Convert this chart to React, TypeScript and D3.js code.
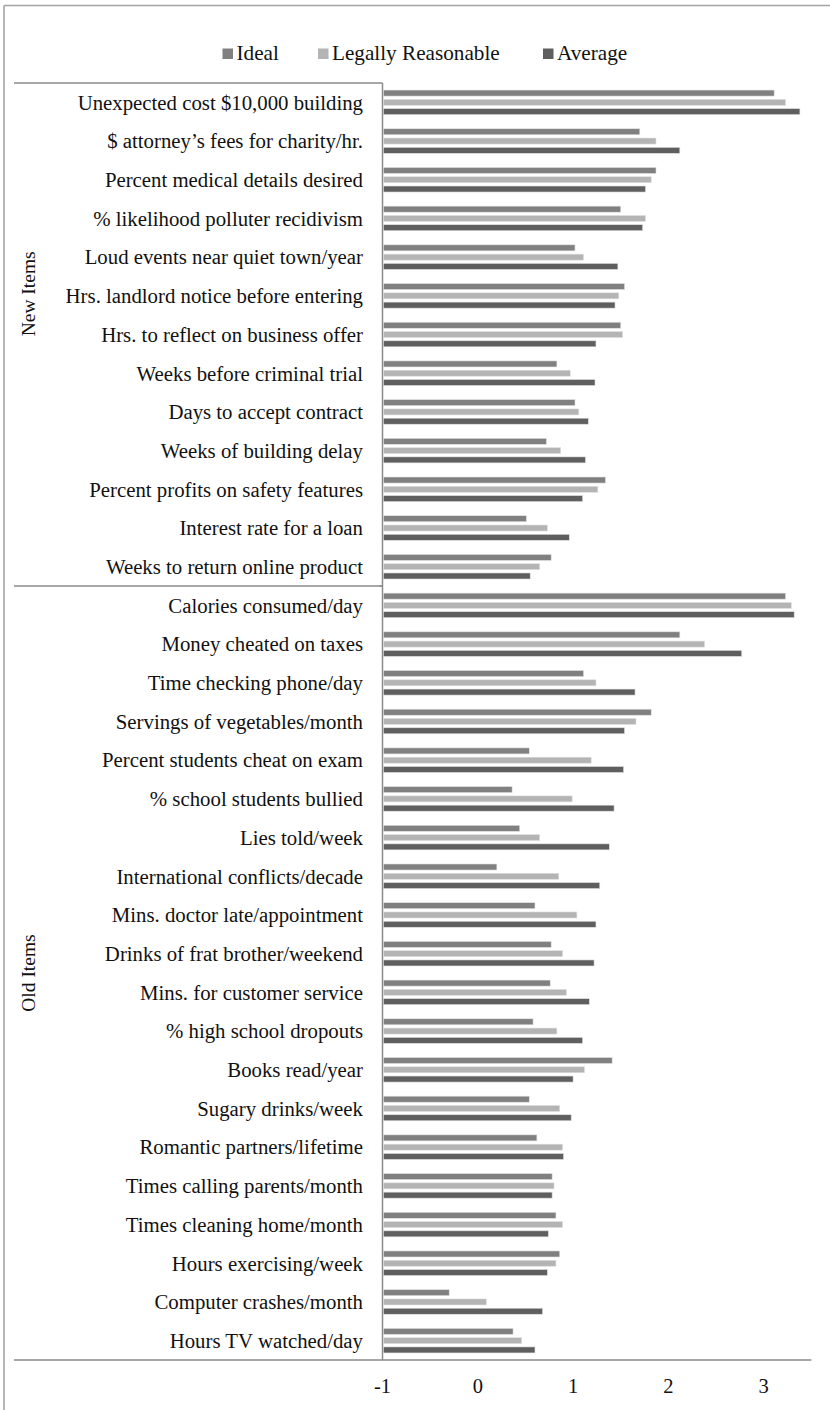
import React from "react";
import * as d3 from "d3";

const newItems = [
  "Unexpected cost $10,000 building",
  "$ attorney\u2019s fees for charity/hr.",
  "Percent medical details desired",
  "% likelihood polluter recidivism",
  "Loud events near quiet town/year",
  "Hrs. landlord notice before entering",
  "Hrs. to reflect on business offer",
  "Weeks before criminal trial",
  "Days to accept contract",
  "Weeks of building delay",
  "Percent profits on safety features",
  "Interest rate for a loan",
  "Weeks to return online product",
];
const oldItems = [
  "Calories consumed/day",
  "Money cheated on taxes",
  "Time checking phone/day",
  "Servings of vegetables/month",
  "Percent students cheat on exam",
  "% school students bullied",
  "Lies told/week",
  "International conflicts/decade",
  "Mins. doctor late/appointment",
  "Drinks of frat brother/weekend",
  "Mins. for customer service",
  "% high school dropouts",
  "Books read/year",
  "Sugary drinks/week",
  "Romantic partners/lifetime",
  "Times calling parents/month",
  "Times cleaning home/month",
  "Hours exercising/week",
  "Computer crashes/month",
  "Hours TV watched/day",
];
const categories = [...newItems, ...oldItems];

const seriesNames = ["Ideal", "Legally Reasonable", "Average"];
const seriesColors = ["#808080", "#b4b4b4", "#5f5f5f"];

const ideal = [
  3.11, 1.7, 1.87, 1.5, 1.02, 1.54, 1.5, 0.83, 1.02, 0.72, 1.34, 0.51, 0.77,
  3.23, 2.12, 1.11, 1.82, 0.54, 0.36, 0.44, 0.2, 0.6, 0.77, 0.76, 0.58, 1.41,
  0.54, 0.62, 0.78, 0.82, 0.86, -0.3, 0.37,
];
const legallyReasonable = [
  3.23, 1.87, 1.82, 1.76, 1.11, 1.48, 1.52, 0.97, 1.06, 0.87, 1.26, 0.73, 0.65,
  3.29, 2.38, 1.24, 1.66, 1.19, 0.99, 0.65, 0.85, 1.04, 0.89, 0.93, 0.83, 1.12,
  0.86, 0.89, 0.8, 0.89, 0.82, 0.09, 0.46,
];
const average = [
  3.38, 2.12, 1.76, 1.73, 1.47, 1.44, 1.24, 1.23, 1.16, 1.13, 1.1, 0.96, 0.55,
  3.32, 2.77, 1.65, 1.54, 1.53, 1.43, 1.38, 1.28, 1.24, 1.22, 1.17, 1.1, 1.0,
  0.98, 0.9, 0.78, 0.74, 0.73, 0.68, 0.6,
];
const seriesValues = [ideal, legallyReasonable, average];
const xTicks = [-1, 0, 1, 2, 3];

const W = 830;
const H = 1410;
const FONT = "'Liberation Serif', 'Times New Roman', serif";

export default function App() {
  const plotTop = 83;
  const plotBottom = 1360;
  const axisX = 382.5;
  const x = d3.scaleLinear().domain([-1, 3.5]).range([axisX, axisX + 4.5 * 95.3]);
  const y = d3.scaleBand<string>().domain(categories).range([plotTop, plotBottom]);
  const bw = y.bandwidth();
  const sub = d3
    .scaleBand<string>()
    .domain(seriesNames)
    .range([7.05, bw - 7.05])
    .paddingInner(0.35);

  const labelEnd = 363;
  const leftEdge = 14;
  const lineColor = "#8a8a8a";
  const sepY = y(oldItems[0]) as number;
  const newLabelY = (y(newItems[5]) as number) + bw / 2 - 2;
  const oldLabelY = ((y(oldItems[0]) as number) + plotBottom) / 2;

  const legend = [
    { x: 222.5, name: seriesNames[0], color: seriesColors[0] },
    { x: 318, name: seriesNames[1], color: seriesColors[1] },
    { x: 543, name: seriesNames[2], color: seriesColors[2] },
  ];

  return (
    <svg
      width={W}
      height={H}
      style={{ position: "absolute", left: 0, top: 0, background: "#fff" }}
      fontFamily={FONT}
    >
      <rect x={0} y={0} width={W} height={H} fill="#fff" />
      {/* outer frame */}
      <line x1={4} y1={5.5} x2={W} y2={5.5} stroke="#a3a3a3" strokeWidth={1.6} />
      <line x1={4} y1={5.5} x2={4} y2={H} stroke="#a3a3a3" strokeWidth={1.6} />

      {/* legend */}
      {legend.map((l) => (
        <g key={l.name}>
          <rect x={l.x} y={48.5} width={10.5} height={10.5} fill={l.color} />
          <text x={l.x + 14} y={60} fontSize={21.2} fill="#111">
            {l.name}
          </text>
        </g>
      ))}

      {/* category label box */}
      <line x1={leftEdge} y1={plotTop} x2={axisX} y2={plotTop} stroke={lineColor} strokeWidth={1.5} />
      <line x1={leftEdge} y1={sepY} x2={axisX} y2={sepY} stroke={lineColor} strokeWidth={1.5} />
      <line x1={axisX} y1={plotTop} x2={axisX} y2={plotBottom} stroke={lineColor} strokeWidth={1.5} />
      <line x1={axisX - 3} y1={sepY} x2={axisX} y2={sepY} stroke={lineColor} strokeWidth={1.5} />
      <line x1={leftEdge} y1={plotBottom} x2={x(3.5)} y2={plotBottom} stroke={lineColor} strokeWidth={1.5} />

      {/* group labels */}
      <text
        transform={`translate(28,${newLabelY}) rotate(-90)`}
        textAnchor="middle"
        dy="0.35em"
        fontSize={19.5}
        fill="#111"
      >
        New Items
      </text>
      <text
        transform={`translate(28,${oldLabelY}) rotate(-90)`}
        textAnchor="middle"
        dy="0.35em"
        fontSize={19.5}
        fill="#111"
      >
        Old Items
      </text>

      {/* category labels */}
      {categories.map((c) => (
        <text
          key={c}
          x={labelEnd}
          y={(y(c) as number) + bw / 2}
          dy="0.35em"
          textAnchor="end"
          fontSize={20.8}
          fill="#111"
        >
          {c}
        </text>
      ))}

      {/* bars */}
      {seriesNames.map((s, si) => (
        <g key={s}>
          {categories.map((c, ci) => {
            const v = seriesValues[si][ci];
            const x0 = x(-1);
            const x1 = x(v);
            return (
              <rect
                key={c}
                x={x0 + 0.8}
                y={(y(c) as number) + (sub(s) as number)}
                width={Math.max(0, x1 - x0 - 0.8)}
                height={sub.bandwidth()}
                fill={seriesColors[si]}
                stroke="#e2e2e2"
                strokeWidth={0.6}
              />
            );
          })}
        </g>
      ))}

      {/* x tick labels */}
      {xTicks.map((t) => (
        <text
          key={t}
          x={x(t)}
          y={1393}
          textAnchor="middle"
          fontSize={20.5}
          fill="#111"
        >
          {t}
        </text>
      ))}
    </svg>
  );
}
